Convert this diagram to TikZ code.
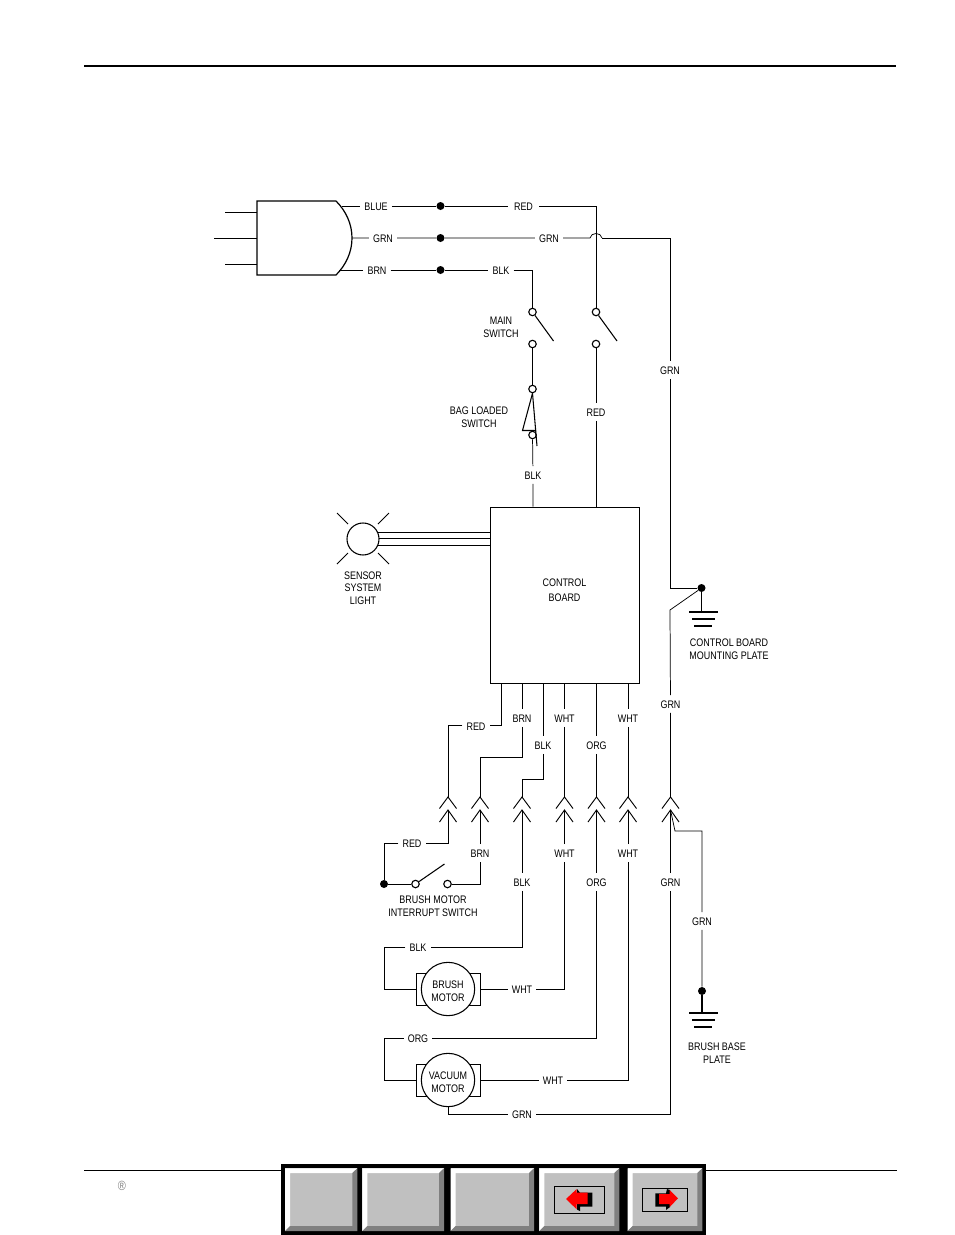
\documentclass[tikz,border=0pt]{standalone}
\usepackage{fontspec}
\setmainfont[FakeStretch=0.82]{Liberation Sans}
\usetikzlibrary{calc,positioning}
\definecolor{btnface}{HTML}{C0C0C0}
\definecolor{btndark}{HTML}{808080}
\tikzset{
    wire/.style={black, line width=0.55pt},
    wirelabel/.style={font=\fontsize{8.2}{9.5}\selectfont, inner xsep=3pt, inner ysep=2.9pt, text height=7pt, text depth=0pt, align=center},
    caption/.style={font=\fontsize{8.2}{9.5}\selectfont, inner sep=0pt, align=center},
    junction/.style={circle, fill=black, inner sep=0pt, minimum size=6pt},
    terminal/.style={circle, draw=black, fill=white, line width=0.85pt, inner sep=0pt, minimum size=5.6pt},
    motorframe/.style={draw=black, line width=0.7pt, inner sep=0pt, minimum width=48pt, minimum height=24pt},
    motorbody/.style={circle, draw=black, fill=white, line width=0.8pt, inner sep=0pt, minimum size=40pt}
}
\begin{document}
\begin{tikzpicture}[x=0.75pt,y=-0.75pt]
    \useasboundingbox (0,0) rectangle (954,1235);
    % page rules
    \draw[black, line width=1.4pt] (84,66) -- (896,66);
    \draw[black, line width=0.6pt] (84,1170) -- (897,1170);
    % plug
    \draw[black, line width=0.9pt] (336,201) -- (257,201) -- (257,275) -- (336,275)
        .. controls (346,265) and (352,252) .. (352,238)
        .. controls (352,224) and (346,211) .. (336,201);
    \draw[black, line width=0.7pt] (225,212) -- (257,212);
    \draw[black, line width=0.7pt] (214,238) -- (257,238);
    \draw[black, line width=0.7pt] (225,264) -- (257,264);
    \coordinate (plugblue) at (342,206);
    \coordinate (pluggrn) at (352,238);
    \coordinate (plugbrn) at (339,270);
    % top wires
    \node[wirelabel] (lblue) at (376,206) {BLUE};
    \node[junction] (dotblue) at (440.5,206) {};
    \node[wirelabel, inner xsep=4.5pt] (lred) at (523.5,206) {RED};
    \node[wirelabel] (lgrn) at (383,238) {GRN};
    \node[junction] (dotgrn) at (440.5,238) {};
    \node[wirelabel] (lgrnb) at (549,238) {GRN};
    \node[wirelabel] (lbrn) at (377,270) {BRN};
    \node[junction] (dotbrn) at (440.5,270) {};
    \node[wirelabel] (lblk) at (501,270) {BLK};
    \coordinate (hopa) at (590,238);
    \coordinate (hopb) at (602,238);
    % switches
    \node[terminal] (mainup) at (532.5,312) {};
    \node[terminal] (maindn) at (532.5,344) {};
    \node[terminal] (redup) at (596,312) {};
    \node[terminal] (reddn) at (596,344) {};
    \node[terminal] (bagup) at (532.5,389) {};
    \node[terminal] (bagdn) at (532.5,435) {};
    \draw[black, line width=0.8pt] (mainup) -- (553.5,341);
    \draw[black, line width=0.8pt] (redup) -- (617,341);
    \draw[black, line width=0.8pt] (bagup.south) -- (522.5,430.5) -- (536,430.5);
    \draw[black, line width=0.8pt] (bagup.south) -- (537,446);
    \node[caption] (lmain) at (501,327.5) {MAIN\\SWITCH};
    \node[caption] (lbag) at (479,417.5) {BAG LOADED\\SWITCH};
    \node[wirelabel] (lredc) at (596,412) {RED};
    \node[wirelabel] (lblkb) at (533,475) {BLK};
    % control board
    \node[draw=black, line width=0.75pt, inner sep=0pt, minimum width=111.75pt, minimum height=132pt] (board) at (564.5,595) {};
    \node[font=\fontsize{8.2}{11.2}\selectfont, inner sep=0pt, align=center] (lboard) at (564.5,590) {CONTROL\\BOARD};
    \draw[wire] (plugblue) -- (lblue) -- (dotblue) -- (lred) -| (redup);
    \draw[wire] (pluggrn) -- (lgrn) -- (dotgrn) -- (lgrnb) -- (hopa)
        .. controls (591,232) and (601,232) .. (hopb);
    \draw[wire] (plugbrn) -- (lbrn) -- (dotbrn) -- (lblk) -| (mainup);
    \draw[wire] (maindn) -- (bagup);
    \draw[wire] (bagdn) -- (lblkb) -- (lblkb |- board.north);
    \draw[wire] (reddn) -- (lredc) -- (lredc |- board.north);
    % sensor light
    \node[circle, draw=black, line width=0.8pt, inner sep=0pt, minimum size=24pt] (light) at (363,539) {};
    \draw[black, line width=0.6pt] (337,513) -- (348,524);
    \draw[black, line width=0.6pt] (389,513) -- (378,524);
    \draw[black, line width=0.6pt] (337,564) -- (348,553);
    \draw[black, line width=0.6pt] (389,564) -- (378,553);
    \draw[wire] (378,532) -- (490,532);
    \draw[wire] (379,538.5) -- (490,538.5);
    \draw[wire] (378,545) -- (490,545);
    \node[caption] (llight) at (363,588) {SENSOR\\SYSTEM\\LIGHT};
    % ground at the board
    \node[wirelabel] (lgrnc) at (670,370) {GRN};
    \node[junction] (gndboard) at (701.5,588) {};
    \coordinate (gndstem) at (701.5,612);
    \coordinate (grnkink) at (670,610);
    \draw[wire] (hopb) -| (lgrnc);
    \draw[wire] (lgrnc) |- (gndboard);
    \draw[black, line width=0.8pt] (gndboard) -- (gndstem);
    \draw[black, line width=0.8pt] (689,612) -- (718,612);
    \draw[black, line width=0.8pt] (692,619) -- (715,619);
    \draw[black, line width=0.8pt] (694,626) -- (712,626);
    \node[caption] (lplate) at (729,649) {CONTROL BOARD\\MOUNTING PLATE};
    % connectors
    \foreach \x/\n in {448/a,480/b,522/c,564.5/d,596.5/e,628/f,670.5/g} {
        \coordinate (top\n) at (\x,797);
        \coordinate (low\n) at (\x,810);
        \draw[black, line width=0.7pt] (\x-8.5,808.5) -- (top\n) -- (\x+8.5,808.5);
        \draw[black, line width=0.7pt] (\x-8.5,822) -- (low\n) -- (\x+8.5,822);
    }
    % wires from the board to the connectors
    \coordinate (outred) at (501,683);
    \coordinate (outbrn) at (522,683);
    \coordinate (outblk) at (543,683);
    \coordinate (outwhta) at (564.5,683);
    \coordinate (outorg) at (596.5,683);
    \coordinate (outwhtb) at (628,683);
    \coordinate (bendbrn) at (522,757);
    \coordinate (bendblk) at (543,779);
    \node[wirelabel] (lredd) at (476,725.5) {RED};
    \node[wirelabel] (lbrnb) at (522,718) {BRN};
    \node[wirelabel] (lblkc) at (543,745) {BLK};
    \node[wirelabel] (lwhta) at (564.5,718) {WHT};
    \node[wirelabel] (lorg) at (596.5,745) {ORG};
    \node[wirelabel] (lwhtb) at (628,718) {WHT};
    \node[wirelabel] (lgrnd) at (670.5,704) {GRN};
    \draw[wire] (outred) |- (lredd) -| (topa);
    \draw[wire] (outbrn) -- (lbrnb) -- (bendbrn) -| (topb);
    \draw[wire] (outblk) -- (lblkc) -- (bendblk) -| (topc);
    \draw[wire] (outwhta) -- (lwhta) -- (topd);
    \draw[wire] (outorg) -- (lorg) -- (tope);
    \draw[wire] (outwhtb) -- (lwhtb) -- (topf);
    \draw[wire] (gndboard) -- (grnkink) -- (lgrnd) -- (topg);
    % brush motor interrupt switch
    \node[junction] (dotint) at (384,884) {};
    \node[terminal] (intl) at (415.5,884) {};
    \node[terminal] (intr) at (447.5,884) {};
    \node[wirelabel] (lrede) at (412,843) {RED};
    \node[wirelabel] (lbrnc) at (480,853) {BRN};
    \node[caption] (lint) at (433,906) {BRUSH MOTOR\\INTERRUPT SWITCH};
    \draw[black, line width=0.8pt] (intl) -- (444.5,864);
    \draw[wire] (lowa) |- (lrede) -| (dotint) -- (intl);
    \draw[wire] (intr) -| (lbrnc) -- (lowb);
    % motors
    \node[motorframe] (bframe) at (448,989) {};
    \node[motorbody] (bmotor) at (448,989) {};
    \node[font=\fontsize{8.2}{9.8}\selectfont, inner sep=0pt, align=center] (lbmotor) at (448,991) {BRUSH\\MOTOR};
    \node[motorframe] (vframe) at (448,1080) {};
    \node[motorbody] (vmotor) at (448,1080) {};
    \node[font=\fontsize{8.2}{9.8}\selectfont, inner sep=0pt, align=center] (lvmotor) at (448,1082) {VACUUM\\MOTOR};
    \node[wirelabel] (lblkd) at (522,882) {BLK};
    \node[wirelabel] (lblke) at (418,947) {BLK};
    \node[wirelabel] (lwhtc) at (564.5,853) {WHT};
    \node[wirelabel] (lwhtd) at (522,989) {WHT};
    \node[wirelabel] (lorgb) at (596.5,882) {ORG};
    \node[wirelabel] (lorgc) at (418,1038) {ORG};
    \node[wirelabel] (lwhte) at (628,853) {WHT};
    \node[wirelabel] (lwhtf) at (553,1080) {WHT};
    \node[wirelabel] (lgrne) at (670.5,882) {GRN};
    \node[wirelabel] (lgrnf) at (522,1114) {GRN};
    \coordinate (blkturn) at (522,947);
    \coordinate (orgturn) at (596.5,1038);
    \coordinate (blkleft) at (384,947);
    \coordinate (orgleft) at (384,1038);
    \draw[wire] (lowc) -- (lblkd) -- (blkturn) -- (lblke) -- (blkleft) |- (bframe.west);
    \draw[wire] (bframe.east) -- (lwhtd) -| (lwhtc);
    \draw[wire] (lwhtc) -- (lowd);
    \draw[wire] (lowe) -- (lorgb) -- (orgturn) -- (lorgc) -- (orgleft) |- (vframe.west);
    \draw[wire] (vframe.east) -- (lwhtf) -| (lwhte);
    \draw[wire] (lwhte) -- (lowf);
    \draw[wire] (vmotor.south) |- (lgrnf) -| (lgrne);
    \draw[wire] (lgrne) -- (lowg);
    % ground at the brush base
    \coordinate (grnelbow) at (675,831);
    \node[wirelabel] (lgrng) at (702,921) {GRN};
    \node[junction] (gndbase) at (702,991) {};
    \coordinate (basestem) at (702,1013);
    \draw[wire] (lowg) -- (grnelbow) -| (lgrng) -- (gndbase);
    \draw[black, line width=0.8pt] (gndbase) -- (basestem);
    \draw[black, line width=0.8pt] (689,1013) -- (718,1013);
    \draw[black, line width=0.8pt] (692,1020) -- (715,1020);
    \draw[black, line width=0.8pt] (694,1027) -- (712,1027);
    \node[caption] (lbase) at (717,1053) {BRUSH BASE\\PLATE};
    % footer
    \node[font=\fontsize{10}{11}\selectfont, text=gray, inner sep=0pt] (regmark) at (122,1185.5) {®};
    \fill[black] (281,1164) rectangle (706,1235);
    \foreach \xa/\xb in {285/357.3,362.3/444,450.7/534,539.3/619.3,627.7/702.3} {
        \fill[btnface] (\xa,1168.3) rectangle (\xb,1231);
        \fill[white] (\xa,1168.3) -- (\xb,1168.3) -- (\xb-5,1173) -- (\xa+5,1173) -- (\xa+5,1226) -- (\xa,1231) -- cycle;
        \fill[btndark] (\xb,1231) -- (\xa,1231) -- (\xa+5,1226) -- (\xb-5,1226) -- (\xb-5,1173) -- (\xb,1168.3) -- cycle;
    }
    % arrow icons
    \draw[black, line width=0.6pt] (554.3,1186) rectangle (604.3,1213);
    \fill[black] (577,1189) -- (580,1192.7) -- (592.3,1192.7) -- (592.3,1206.7) -- (580,1206.7) -- (580,1211) -- (577,1209.5) -- cycle;
    \fill[red] (566,1199) -- (576.7,1189) -- (576.7,1192.7) -- (587.7,1192.7) -- (587.7,1204) -- (576.7,1204) -- (576.7,1209.3) -- cycle;
    \draw[black, line width=0.6pt] (642.3,1188.3) rectangle (687.3,1211.7);
    \fill[black] (655.3,1193.3) -- (666,1193.3) -- (667,1189) -- (670,1190) -- (670,1207) -- (666,1210) -- (666,1206.7) -- (655.3,1206.7) -- cycle;
    \fill[red] (678,1198.3) -- (669.7,1190) -- (669.7,1194) -- (659,1194) -- (659,1204) -- (669.7,1204) -- (669.7,1207) -- cycle;
\end{tikzpicture}
\end{document}
